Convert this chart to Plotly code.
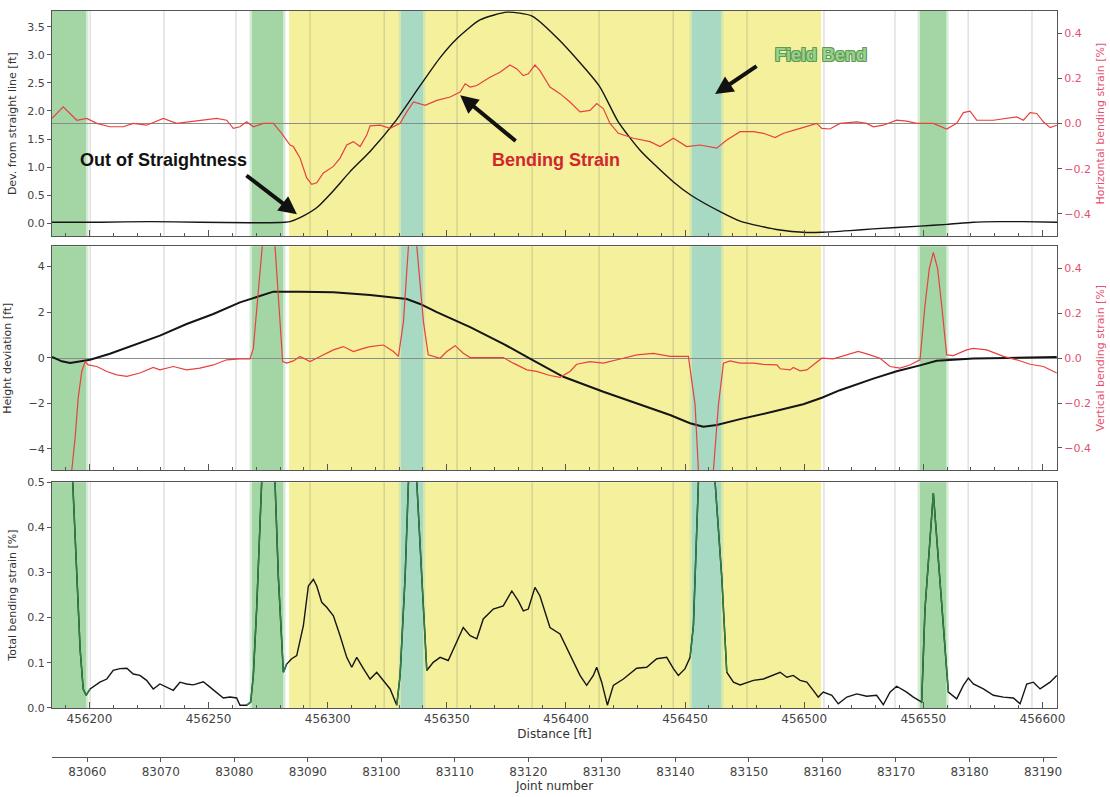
import numpy as np
import plotly.graph_objects as go

# ---------------- data ----------------
X_RANGE = [456184.3, 456606.1]
JOINT_RANGE = [83055.2, 83191.9]

YELLOW_ZONE = [456283.8, 456507.1]
FIELD_BEND_START = [456180.0, 456267.8, 456330.4, 456452.5, 456548.2]
FIELD_BEND_END = [456199.0, 456281.7, 456340.4, 456465.5, 456560.0]
JOINT_WELDS = [456200.3, 456231.3, 456261.5, 456292.6, 456323.7, 456354.3, 456385.8,
               456413.9, 456445.0, 456476.0, 456508.3, 456538.1, 456568.8, 456595.6]

# Panel 1: out of straightness [ft]
OOS_DIST = [456184.3, 456204.4, 456225.4, 456246.4, 456267.4, 456282.1, 456284.2, 456288.4,
            456295.5, 456302.2, 456309.4, 456317.8, 456328.3, 456338.8, 456347.2, 456354.3,
            456363.9, 456375.3, 456385.8, 456397.5, 456413.9, 456421.9, 456431.1, 456445.0,
            456452.5, 456465.5, 456473.1, 456481.5, 456489.9, 456499.5, 456507.1, 456519.2,
            456528.9, 456548.6, 456560.0, 456570.9, 456582.2, 456591.9, 456606.1]
OOS_FT = [0.02, 0.02, 0.03, 0.02, 0.01, 0.02, 0.03, 0.10,
          0.28, 0.57, 0.92, 1.28, 1.81, 2.45, 2.95, 3.29,
          3.62, 3.76, 3.69, 3.25, 2.45, 1.81, 1.30, 0.74,
          0.50, 0.19, 0.04, -0.05, -0.12, -0.16, -0.16, -0.13,
          -0.10, -0.05, -0.02, 0.02, 0.03, 0.03, 0.02]

# Panel 1: horizontal bending strain [%]
HSTRAIN_DIST = [456184.3, 456189.0, 456194.7, 456198.9, 456203.1, 456208.6, 456214.2, 456218.4,
                456224.0, 456231.0, 456236.6, 456246.4, 456253.4, 456257.6, 456260.4, 456263.2,
                456266.0, 456268.8, 456273.0, 456277.2, 456280.7, 456284.2, 456285.6, 456288.4,
                456291.2, 456293.3, 456295.4, 456298.2, 456302.4, 456305.2, 456308.0, 456310.8,
                456313.6, 456316.4, 456317.8, 456322.0, 456326.2, 456330.4, 456333.2, 456336.0,
                456338.8, 456340.9, 456345.8, 456351.4, 456355.6, 456357.7, 456359.8, 456362.6,
                456368.1, 456372.3, 456376.5, 456379.4, 456382.1, 456384.2, 456387.0, 456389.1,
                456393.3, 456397.5, 456401.7, 456405.9, 456410.1, 456412.9, 456415.7, 456418.5,
                456422.0, 456428.3, 456435.3, 456439.5, 456445.1, 456450.7, 456456.3, 456463.3,
                456467.5, 456473.1, 456478.7, 456482.9, 456487.8, 456491.3, 456498.3, 456505.3,
                456507.4, 456510.8, 456515.0, 456522.1, 456526.2, 456529.0, 456533.2, 456538.8,
                456543.0, 456547.2, 456554.2, 456559.8, 456564.0, 456566.8, 456569.6, 456572.4,
                456579.4, 456585.0, 456589.2, 456592.0, 456594.8, 456597.6, 456600.4, 456603.2,
                456606.0]
HSTRAIN_PCT = [0.023, 0.074, 0.015, 0.023, 0.001, -0.014, -0.014, 0.001,
               -0.007, 0.023, 0.001, 0.015, 0.023, 0.015, -0.021, -0.014,
               0.008, -0.014, 0.001, 0.001, -0.043, -0.095, -0.102, -0.153,
               -0.241, -0.270, -0.263, -0.219, -0.190, -0.153, -0.095, -0.080,
               -0.102, -0.051, -0.010, -0.007, -0.021, 0.001, 0.052, 0.096,
               0.089, 0.081, 0.103, 0.118, 0.140, 0.177, 0.162, 0.169,
               0.206, 0.228, 0.260, 0.243, 0.213, 0.221, 0.260, 0.235,
               0.162, 0.133, 0.096, 0.052, 0.059, 0.089, 0.067, 0.001,
               -0.043, -0.065, -0.080, -0.102, -0.065, -0.102, -0.095, -0.109,
               -0.073, -0.036, -0.036, -0.043, -0.062, -0.043, -0.021, 0.001,
               -0.021, -0.024, 0.001, 0.008, 0.001, -0.014, -0.007, 0.015,
               0.011, 0.001, 0.001, -0.024, 0.001, 0.049, 0.055, 0.015,
               0.015, 0.023, 0.030, 0.015, 0.049, 0.045, 0.008, -0.018,
               -0.007]

# Panel 2: height deviation [ft]
HEIGHT_DIST = [456184.3, 456188.4, 456191.9, 456196.1, 456200.3, 456208.6, 456218.4, 456229.6,
               456240.8, 456252.0, 456263.2, 456271.6, 456277.2, 456288.4, 456302.4, 456317.8,
               456326.2, 456333.2, 456338.8, 456345.8, 456359.8, 456373.7, 456384.9, 456398.9,
               456415.7, 456429.7, 456443.7, 456452.1, 456457.7, 456463.3, 456473.1, 456487.1,
               456499.6, 456507.4, 456515.0, 456529.0, 456538.8, 456548.6, 456555.6, 456562.6,
               456571.0, 456585.0, 456606.0]
HEIGHT_FT = [0.03, -0.16, -0.23, -0.16, -0.09, 0.17, 0.54, 0.97,
             1.48, 1.92, 2.43, 2.72, 2.90, 2.90, 2.87, 2.75,
             2.65, 2.58, 2.36, 2.00, 1.34, 0.61, -0.04, -0.84,
             -1.50, -2.01, -2.52, -2.88, -3.03, -2.96, -2.70, -2.37,
             -2.05, -1.76, -1.43, -0.92, -0.60, -0.34, -0.14, -0.09,
             -0.04, -0.01, 0.03]

# Panel 2: vertical bending strain [%]
VSTRAIN_DIST = [456184.3, 456187.7, 456190.2, 456192.6, 456194.0, 456195.3, 456196.8, 456198.2,
                456199.5, 456203.1, 456207.3, 456211.5, 456215.7, 456221.2, 456226.8, 456229.6,
                456235.2, 456240.8, 456246.4, 456252.0, 456257.6, 456263.2, 456267.4, 456268.8,
                456270.6, 456272.3, 456273.7, 456275.1, 456276.5, 456277.9, 456279.6, 456281.1,
                456282.8, 456285.6, 456288.4, 456292.6, 456296.8, 456302.4, 456306.6, 456310.8,
                456315.0, 456317.8, 456323.4, 456327.6, 456329.7, 456331.8, 456333.9, 456335.6,
                456337.4, 456340.2, 456342.2, 456347.2, 456350.0, 456353.5, 456356.9, 456359.8,
                456373.7, 456377.9, 456383.6, 456387.7, 456393.3, 456397.5, 456401.7, 456404.5,
                456410.1, 456415.7, 456424.1, 456429.7, 456436.7, 456443.7, 456451.4, 456454.2,
                456455.6, 456458.8, 456461.9, 456464.0, 456466.1, 456468.9, 456473.1, 456478.7,
                456482.9, 456488.5, 456489.9, 456494.1, 456495.4, 456498.3, 456501.1, 456505.3,
                456507.4, 456512.2, 456517.9, 456522.7, 456527.6, 456531.8, 456536.0, 456540.2,
                456544.4, 456548.6, 456550.7, 456552.5, 456554.2, 456556.0, 456557.7, 456559.8,
                456562.6, 456568.2, 456571.0, 456576.6, 456583.6, 456589.2, 456594.8, 456600.4,
                456606.0]
VSTRAIN_PCT = [-1.60, -1.20, -0.85, -0.50, -0.354, -0.177, -0.059, -0.015,
               -0.030, -0.037, -0.059, -0.074, -0.081, -0.066, -0.041, -0.052,
               -0.037, -0.052, -0.044, -0.030, -0.007, -0.003, -0.003, 0.044,
               0.27, 0.50, 0.64, 0.68, 0.64, 0.50, 0.24, -0.015,
               -0.022, -0.012, 0.008, -0.015, 0.008, 0.037, 0.052, 0.030,
               0.044, 0.052, 0.059, 0.030, 0.008, 0.162, 0.50, 0.58,
               0.50, 0.162, 0.015, 0.000, 0.030, 0.056, 0.022, 0.003,
               0.003, -0.022, -0.052, -0.059, -0.077, -0.085, -0.059, -0.027,
               -0.015, -0.022, 0.000, 0.015, 0.022, 0.008, 0.008, -0.207,
               -0.50, -0.75, -0.50, -0.207, -0.022, -0.012, -0.022, -0.022,
               -0.027, -0.030, -0.047, -0.052, -0.041, -0.056, -0.052, -0.015,
               0.000, -0.003, 0.015, 0.030, 0.015, 0.000, -0.037, -0.044,
               -0.030, -0.007, 0.236, 0.40, 0.472, 0.40, 0.236, 0.015,
               0.012, 0.037, 0.044, 0.037, 0.008, -0.007, -0.027, -0.037,
               -0.066]

# Panel 3: total bending strain [%]
TOTAL_DIST = [456184.3, 456187.7, 456190.2, 456193.0, 456194.7, 456196.1, 456197.4, 456198.6,
              456200.3, 456202.3, 456204.4, 456207.3, 456210.0, 456212.8, 456215.7, 456218.4,
              456221.2, 456224.0, 456226.8, 456229.6, 456232.4, 456235.2, 456238.0, 456240.8,
              456243.6, 456247.8, 456250.6, 456253.4, 456256.2, 456259.0, 456261.8, 456263.2,
              456266.0, 456267.7, 456268.8, 456270.2, 456272.3, 456273.7, 456275.1, 456276.5,
              456277.9, 456279.3, 456280.7, 456281.4, 456282.8, 456284.9, 456287.0, 456289.8,
              456291.9, 456294.0, 456295.4, 456297.5, 456299.6, 456302.4, 456305.2, 456308.0,
              456310.1, 456312.2, 456315.0, 456317.8, 456320.6, 456323.4, 456326.2, 456329.0,
              456330.4, 456332.5, 456333.9, 456335.6, 456337.4, 456339.5, 456341.6, 456344.3,
              456347.2, 456350.6, 456354.2, 456356.9, 456359.8, 456362.6, 456365.3, 456369.5,
              456373.7, 456377.3, 456380.0, 456382.1, 456384.2, 456387.0, 456389.1, 456393.3,
              456397.5, 456401.7, 456405.9, 456408.7, 456411.5, 456412.9, 456415.0, 456417.4,
              456419.9, 456424.1, 456429.7, 456433.9, 456438.1, 456442.3, 456445.1, 456447.2,
              456450.0, 456452.1, 456453.5, 456455.6, 456458.8, 456462.6, 456465.4, 456467.5,
              456470.3, 456473.1, 456478.7, 456482.9, 456487.1, 456489.9, 456492.7, 456495.4,
              456498.3, 456501.1, 456503.8, 456505.9, 456508.0, 456511.6, 456514.3, 456517.9,
              456522.1, 456526.2, 456530.4, 456533.2, 456536.0, 456538.8, 456543.0, 456545.8,
              456549.3, 456550.7, 456554.2, 456557.7, 456560.5, 456564.0, 456566.8, 456568.9,
              456571.0, 456575.2, 456579.4, 456583.6, 456587.8, 456590.6, 456593.4, 456596.2,
              456599.0, 456603.2, 456606.0]
TOTAL_PCT = [1.20, 0.95, 0.70, 0.50, 0.29, 0.13, 0.042, 0.028,
             0.042, 0.050, 0.057, 0.064, 0.083, 0.087, 0.088, 0.075,
             0.072, 0.061, 0.042, 0.053, 0.046, 0.039, 0.057, 0.053,
             0.051, 0.058, 0.046, 0.035, 0.022, 0.024, 0.022, 0.006,
             0.006, 0.013, 0.072, 0.22, 0.50, 0.64, 0.69, 0.64,
             0.50, 0.29, 0.13, 0.079, 0.097, 0.109, 0.116, 0.182,
             0.270, 0.285, 0.270, 0.234, 0.223, 0.204, 0.160, 0.112,
             0.090, 0.112, 0.087, 0.064, 0.079, 0.061, 0.042, 0.006,
             0.072, 0.29, 0.50, 0.60, 0.50, 0.29, 0.083, 0.101,
             0.112, 0.105, 0.145, 0.178, 0.160, 0.153, 0.197, 0.219,
             0.226, 0.259, 0.237, 0.215, 0.219, 0.267, 0.248, 0.178,
             0.164, 0.116, 0.072, 0.050, 0.072, 0.090, 0.057, 0.006,
             0.050, 0.064, 0.088, 0.090, 0.109, 0.112, 0.087, 0.072,
             0.087, 0.112, 0.182, 0.50, 0.76, 0.50, 0.29, 0.079,
             0.057, 0.051, 0.061, 0.064, 0.072, 0.079, 0.068, 0.072,
             0.061, 0.057, 0.039, 0.024, 0.035, 0.028, 0.009, 0.024,
             0.031, 0.026, 0.028, 0.007, 0.035, 0.048, 0.035, 0.024,
             0.013, 0.219, 0.476, 0.219, 0.035, 0.020, 0.050, 0.066,
             0.053, 0.042, 0.028, 0.024, 0.022, 0.009, 0.053, 0.057,
             0.042, 0.057, 0.072]

# ---------------- styling ----------------
BLACK = "#151515"
RED = "#e8413f"
PINK = "#e4506f"
GREEN_LINE = "#2f7f45"
YELLOW = "#f4f09c"
GREEN_BAND = "#a3d5a5"
GREEN_BAND_ON_YELLOW = "#a8d9c3"
AX = "#555555"
TXT = "#333333"
FONT = "DejaVu Sans"

D1 = [0.6981, 1.0]
D2 = [0.3843, 0.6848]
D3 = [0.0658, 0.3684]

fig = go.Figure()

# panel 1
fig.add_trace(go.Scatter(x=OOS_DIST, y=OOS_FT, mode="lines", line=dict(color=BLACK, width=1.4, shape="spline", smoothing=0.6),
                         xaxis="x", yaxis="y", hoverinfo="skip", showlegend=False))
fig.add_trace(go.Scatter(x=HSTRAIN_DIST, y=HSTRAIN_PCT, mode="lines", line=dict(color=RED, width=1.2),
                         xaxis="x", yaxis="y2", hoverinfo="skip", showlegend=False))
# panel 2
fig.add_trace(go.Scatter(x=HEIGHT_DIST, y=HEIGHT_FT, mode="lines", line=dict(color=BLACK, width=2.0),
                         xaxis="x2", yaxis="y3", hoverinfo="skip", showlegend=False))
fig.add_trace(go.Scatter(x=VSTRAIN_DIST, y=VSTRAIN_PCT, mode="lines", line=dict(color=RED, width=1.2),
                         xaxis="x2", yaxis="y4", hoverinfo="skip", showlegend=False))
# panel 3
fig.add_trace(go.Scatter(x=TOTAL_DIST, y=TOTAL_PCT, mode="lines", line=dict(color=BLACK, width=1.4),
                         xaxis="x3", yaxis="y5", hoverinfo="skip", showlegend=False))
tdist = np.array(TOTAL_DIST)
tpct = np.array(TOTAL_PCT)
for s, e in zip(FIELD_BEND_START, FIELD_BEND_END):
    m = (tdist >= s - 2.1) & (tdist <= e + 2.1)
    fig.add_trace(go.Scatter(x=tdist[m], y=tpct[m], mode="lines", line=dict(color=GREEN_LINE, width=1.5),
                             xaxis="x3", yaxis="y5", hoverinfo="skip", showlegend=False))
# carrier for the joint-number axis
fig.add_trace(go.Scatter(x=[JOINT_RANGE[0]], y=[None], mode="markers", marker=dict(opacity=0),
                         xaxis="x4", yaxis="y5", hoverinfo="skip", showlegend=False))

# ---------------- shapes ----------------
shapes = []
for xr, yr in (("x", "y domain"), ("x2", "y3 domain"), ("x3", "y5 domain")):
    shapes.append(dict(type="rect", xref=xr, yref=yr, x0=YELLOW_ZONE[0], x1=YELLOW_ZONE[1], y0=0, y1=1,
                       fillcolor=YELLOW, line=dict(width=0), layer="below"))
    for s, e in zip(FIELD_BEND_START, FIELD_BEND_END):
        inside = s >= YELLOW_ZONE[0] and e <= YELLOW_ZONE[1]
        col = GREEN_BAND_ON_YELLOW if inside else GREEN_BAND
        shapes.append(dict(type="rect", xref=xr, yref=yr, x0=s - 0.6, x1=e + 0.6, y0=0, y1=1,
                           fillcolor=col, opacity=0.45, line=dict(width=0), layer="below"))
        shapes.append(dict(type="rect", xref=xr, yref=yr, x0=s + 0.4, x1=e - 0.4, y0=0, y1=1,
                           fillcolor=col, line=dict(width=0), layer="below"))
    for w in JOINT_WELDS:
        shapes.append(dict(type="line", xref=xr, yref=yr, x0=w, x1=w, y0=0, y1=1,
                           line=dict(color="rgba(90,90,90,0.28)", width=1), layer="below"))

# ---------------- annotations ----------------
ann = [
    dict(text="<b>Out of Straightness</b>", x=456231.0, y=1.13, xref="x", yref="y", showarrow=False,
         font=dict(family="Liberation Sans, Arial", size=18, color="#111111")),
    dict(text="<b>Bending Strain</b>", x=456395.8, y=1.13, xref="x", yref="y", showarrow=False,
         font=dict(family="Liberation Sans, Arial", size=18, color="#d2262f")),
    dict(text="<b>Field Bend</b>", x=456507.1, y=2.99, xref="x", yref="y", showarrow=False,
         font=dict(family="Liberation Sans, Arial", size=18, color="#98d28e",
                   shadow="-1px -1px 0 #5f9a52, 1px -1px 0 #5f9a52, -1px 1px 0 #5f9a52, 1px 1px 0 #5f9a52")),
]
for tip_x, tip_y, ax, ay in ((456287.1, 0.16, -52, -40), (456355.6, 2.28, 57, 47), (456462.6, 2.30, 43, -29)):
    ann.append(dict(text="", x=tip_x, y=tip_y, xref="x", yref="y", ax=ax, ay=ay, showarrow=True,
                    arrowhead=2, arrowsize=0.9, arrowwidth=4, arrowcolor="#111111", standoff=0))

# ---------------- axes ----------------
tickfont = dict(family=FONT, size=11, color="#444444")
titlefont = dict(family=FONT, size=11, color=TXT)
xcommon = dict(range=X_RANGE, showgrid=False, zeroline=False, showline=True, mirror=True, linecolor=AX,
               linewidth=1, ticks="inside", ticklen=6, tickcolor=AX, dtick=50, tick0=456200, tickformat="d",
               minor=dict(dtick=10, tick0=456200, ticks="inside", ticklen=3, tickcolor=AX, showgrid=False),
               tickfont=dict(family=FONT, size=12, color="#444444"))
ycommon = dict(showgrid=False, zeroline=False, showline=True, mirror=True, linecolor=AX, linewidth=1,
               ticks="outside", ticklen=4, tickcolor=AX, tickfont=tickfont)
yright = dict(showgrid=False, showline=False, ticks="outside", ticklen=4, tickcolor=AX, side="right",
              zeroline=True, zerolinecolor="#8c8c8c", zerolinewidth=1, dtick=0.2, tickformat=".1f",
              range=[-0.5, 0.5], tickfont=dict(family=FONT, size=11, color=PINK))

fig.update_layout(
    width=1110, height=797,
    margin=dict(l=52, r=53, t=5, b=40),
    paper_bgcolor="white", plot_bgcolor="white",
    shapes=shapes, annotations=ann,
    xaxis=dict(xcommon, anchor="y", showticklabels=False),
    xaxis2=dict(xcommon, anchor="y3", showticklabels=False),
    xaxis3=dict(xcommon, anchor="y5", title=dict(text="Distance [ft]", font=dict(family=FONT, size=12, color=TXT), standoff=4)),
    xaxis4=dict(range=JOINT_RANGE, overlaying="x3", anchor="free", position=0, side="bottom",
                showgrid=False, zeroline=False, showline=True, linecolor=AX, linewidth=1,
                ticks="outside", ticklen=4, tickcolor=AX, dtick=10, tick0=83060, tickformat="d",
                tickfont=dict(family=FONT, size=12, color="#444444"),
                title=dict(text="Joint number", font=dict(family=FONT, size=12, color=TXT), standoff=2)),
    yaxis=dict(ycommon, domain=D1, anchor="x", range=[-0.23, 3.78], dtick=0.5, tickformat=".1f",
               title=dict(text="Dev. from straight line [ft]", font=titlefont, standoff=8)),
    yaxis2=dict(yright, overlaying="y", anchor="x",
                title=dict(text="Horizontal bending strain [%]", font=dict(family=FONT, size=11, color=PINK), standoff=6)),
    yaxis3=dict(ycommon, domain=D2, anchor="x2", range=[-4.95, 4.9], dtick=2,
                title=dict(text="Height deviation [ft]", font=titlefont, standoff=14)),
    yaxis4=dict(yright, overlaying="y3", anchor="x2",
                title=dict(text="Vertical bending strain [%]", font=dict(family=FONT, size=11, color=PINK), standoff=6)),
    yaxis5=dict(ycommon, domain=D3, anchor="x3", range=[0, 0.5], dtick=0.1, tickformat=".1f",
                title=dict(text="Total bending strain [%]", font=titlefont, standoff=8)),
)

fig.write_html("out.html", config={"displayModeBar": False},
               post_script="document.body.style.margin='0px';document.body.style.padding='0px';")
